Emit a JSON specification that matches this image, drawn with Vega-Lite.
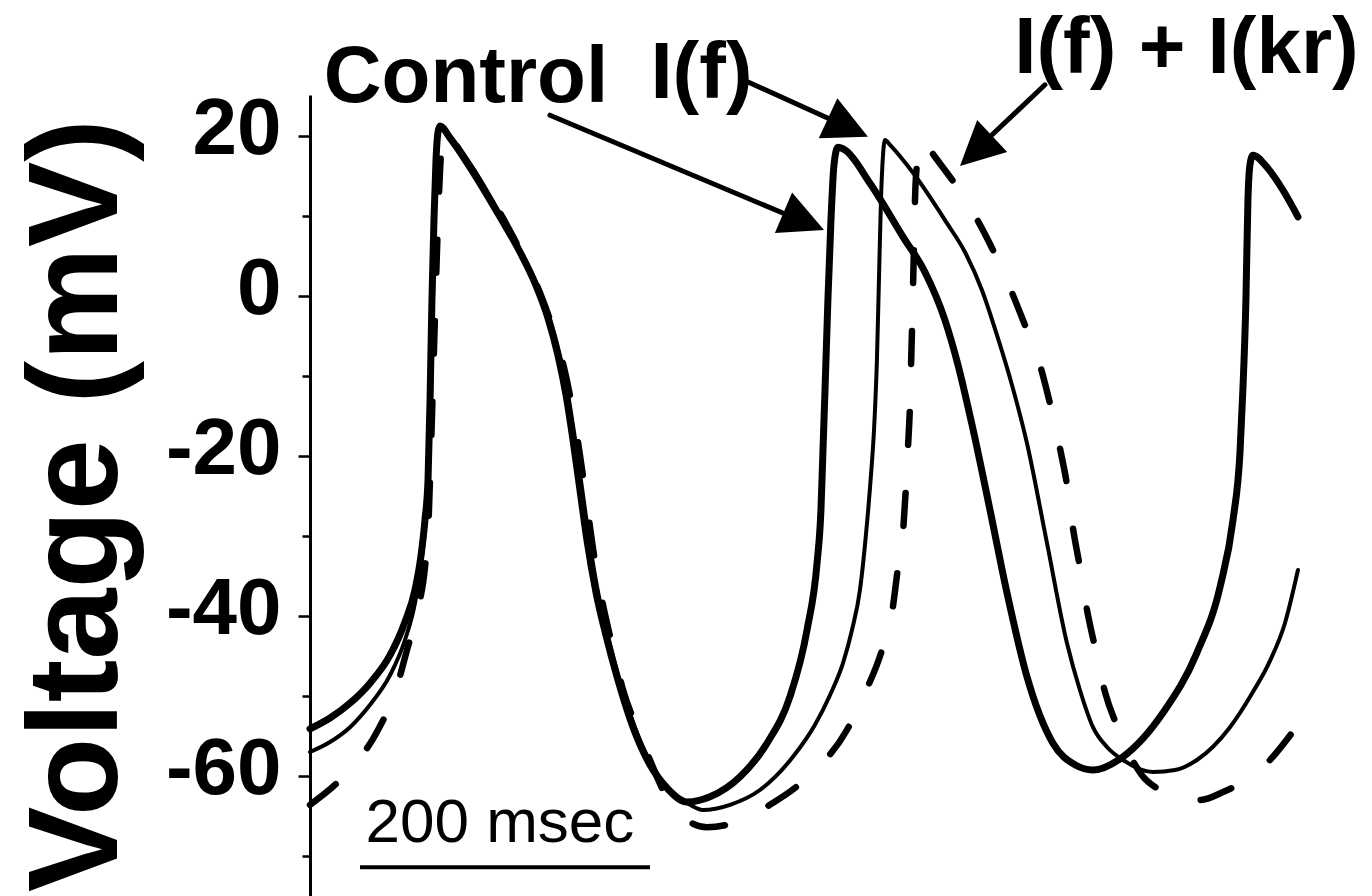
{
  "$schema": "https://vega.github.io/schema/vega-lite/v6.json",
  "width": 990,
  "height": 801,
  "autosize": {"type": "none"},
  "padding": {"left": 310, "top": 95, "right": 72, "bottom": 0},
  "background": "white",
  "config": {"view": {"stroke": null}},
  "datasets": {
    "control": [
      {"t":0,"v":-54.1},{"t":13.8,"v":-52.75},{"t":27.6,"v":-50.9},{"t":41.4,"v":-48.4},{"t":55.2,"v":-44.9},{"t":65.5,"v":-40.75},{"t":72.4,"v":-36.75},{"t":76.6,"v":-32.4},{"t":79.3,"v":-28.0},{"t":81.4,"v":-23.0},{"t":82.8,"v":-13.0},{"t":84.1,"v":-0.5},{"t":85.5,"v":9.5},{"t":86.9,"v":17.0},{"t":88.3,"v":20.5},{"t":89.7,"v":21.25},{"t":96.6,"v":19.75},{"t":112.4,"v":15.5},{"t":131.0,"v":9.9},{"t":144.8,"v":5.5},{"t":155.2,"v":1.6},{"t":164.1,"v":-2.75},{"t":171.0,"v":-7.4},{"t":176.6,"v":-12.4},{"t":181.4,"v":-18.0},{"t":186.2,"v":-24.25},{"t":191.0,"v":-30.5},{"t":197.2,"v":-37.0},{"t":204.1,"v":-42.4},{"t":212.4,"v":-48.0},{"t":222.8,"v":-53.9},{"t":234.5,"v":-58.6},{"t":246.2,"v":-61.5},{"t":260.0,"v":-63.25},{"t":275.9,"v":-62.6},{"t":296.6,"v":-60.1},{"t":315.2,"v":-55.9},{"t":331.0,"v":-50.1},{"t":342.8,"v":-41.75},{"t":349.7,"v":-33.4},{"t":352.4,"v":-26.75},{"t":353.8,"v":-19.25},{"t":355.2,"v":-11.75},{"t":357.2,"v":-0.5},{"t":359.3,"v":9.5},{"t":361.4,"v":16.4},{"t":364.1,"v":18.6},{"t":369.0,"v":18.25},{"t":386.2,"v":14.1},{"t":409.0,"v":7.4},{"t":424.1,"v":3.0},{"t":437.9,"v":-3.0},{"t":446.9,"v":-8.6},{"t":456.6,"v":-16.1},{"t":469.0,"v":-26.75},{"t":480.7,"v":-37.1},{"t":494.5,"v":-47.6},{"t":512.4,"v":-55.9},{"t":527.6,"v":-58.6},{"t":540.0,"v":-59.25},{"t":560.7,"v":-57.6},{"t":588.3,"v":-52.1},{"t":611.7,"v":-44.6},{"t":627.6,"v":-36.4},{"t":636.6,"v":-28.0},{"t":641.4,"v":-19.6},{"t":643.4,"v":-11.75},{"t":645.5,"v":-0.5},{"t":646.9,"v":12.0},{"t":648.3,"v":16.4},{"t":650.3,"v":17.6},{"t":660.0,"v":16.1},{"t":671.0,"v":13.25},{"t":681.4,"v":9.9}
    ],
    "if": [
      {"t":0,"v":-57.0},{"t":13.8,"v":-55.75},{"t":27.6,"v":-53.9},{"t":41.4,"v":-51.1},{"t":55.2,"v":-47.4},{"t":65.5,"v":-43.0},{"t":72.4,"v":-38.4},{"t":76.6,"v":-33.6},{"t":79.3,"v":-29.0},{"t":81.4,"v":-24.25},{"t":83.4,"v":-13.0},{"t":84.8,"v":-0.5},{"t":86.2,"v":10.75},{"t":87.6,"v":18.25},{"t":89.7,"v":20.9},{"t":94.5,"v":20.25},{"t":114.5,"v":15.4},{"t":133.1,"v":9.6},{"t":146.9,"v":5.1},{"t":157.2,"v":1.1},{"t":166.2,"v":-3.25},{"t":173.1,"v":-8.0},{"t":178.6,"v":-13.0},{"t":183.4,"v":-18.6},{"t":188.3,"v":-24.9},{"t":193.1,"v":-31.1},{"t":199.3,"v":-37.6},{"t":206.2,"v":-43.0},{"t":214.5,"v":-48.6},{"t":224.8,"v":-54.25},{"t":236.6,"v":-58.9},{"t":248.3,"v":-61.75},{"t":262.1,"v":-63.6},{"t":271.0,"v":-64.25},{"t":289.7,"v":-63.6},{"t":310.3,"v":-61.75},{"t":333.1,"v":-57.6},{"t":348.3,"v":-53.6},{"t":358.6,"v":-49.9},{"t":367.6,"v":-45.9},{"t":373.8,"v":-41.75},{"t":379.3,"v":-36.75},{"t":383.4,"v":-29.9},{"t":386.9,"v":-22.4},{"t":389.0,"v":-16.75},{"t":391.0,"v":-8.0},{"t":392.4,"v":2.0},{"t":393.8,"v":12.0},{"t":395.2,"v":17.6},{"t":396.6,"v":19.5},{"t":400.0,"v":18.9},{"t":415.9,"v":15.4},{"t":439.3,"v":9.1},{"t":451.7,"v":5.5},{"t":463.4,"v":0.75},{"t":473.8,"v":-4.9},{"t":484.1,"v":-11.1},{"t":494.5,"v":-18.4},{"t":508.3,"v":-30.9},{"t":522.1,"v":-43.4},{"t":531.0,"v":-49.25},{"t":540.0,"v":-53.9},{"t":550.3,"v":-56.5},{"t":560.7,"v":-58.0},{"t":581.4,"v":-59.5},{"t":596.6,"v":-59.25},{"t":611.7,"v":-58.0},{"t":634.5,"v":-53.9},{"t":650.3,"v":-49.5},{"t":662.1,"v":-45.6},{"t":672.4,"v":-40.9},{"t":681.4,"v":-34.25}
    ],
    "ifkr": [
      {"t":0,"v":-63.6},{"t":22.8,"v":-60.1},{"t":46.9,"v":-54.25},{"t":58.6,"v":-49.6},{"t":66.9,"v":-44.25},{"t":73.8,"v":-39.6},{"t":79.3,"v":-33.9},{"t":81.4,"v":-29.6},{"t":83.4,"v":-19.25},{"t":85.5,"v":-6.75},{"t":87.6,"v":5.75},{"t":89.7,"v":15.75},{"t":91.7,"v":20.5},{"t":95.2,"v":20.4},{"t":100.7,"v":18.9},{"t":115.2,"v":14.9},{"t":131.0,"v":10.4},{"t":144.8,"v":5.75},{"t":158.6,"v":0.4},{"t":168.9,"v":-4.9},{"t":175.9,"v":-9.5},{"t":181.4,"v":-14.5},{"t":186.2,"v":-19.9},{"t":191.0,"v":-26.1},{"t":195.9,"v":-32.4},{"t":201.4,"v":-38.0},{"t":208.3,"v":-43.6},{"t":215.9,"v":-49.25},{"t":225.5,"v":-54.0},{"t":234.5,"v":-58.0},{"t":243.4,"v":-61.75},{"t":260.0,"v":-65.5},{"t":273.8,"v":-66.4},{"t":287.6,"v":-66.1},{"t":317.2,"v":-63.6},{"t":343.4,"v":-60.1},{"t":370.3,"v":-54.25},{"t":382.8,"v":-49.6},{"t":394.5,"v":-44.25},{"t":401.4,"v":-39.6},{"t":405.5,"v":-34.0},{"t":409.0,"v":-29.5},{"t":411.0,"v":-23.9},{"t":412.4,"v":-19.0},{"t":413.8,"v":-13.6},{"t":414.5,"v":-8.9},{"t":415.2,"v":-4.25},{"t":415.9,"v":1.1},{"t":416.6,"v":6.6},{"t":417.2,"v":11.6},{"t":418.6,"v":16.4},{"t":422.1,"v":19.5},{"t":431.0,"v":17.4},{"t":453.1,"v":11.75},{"t":466.9,"v":7.25},{"t":481.4,"v":1.6},{"t":491.7,"v":-3.0},{"t":503.4,"v":-8.6},{"t":510.3,"v":-13.4},{"t":517.2,"v":-19.0},{"t":522.1,"v":-23.6},{"t":526.2,"v":-29.0},{"t":531.0,"v":-33.9},{"t":535.9,"v":-39.25},{"t":541.4,"v":-43.9},{"t":548.3,"v":-49.5},{"t":557.2,"v":-54.0},{"t":573.8,"v":-59.9},{"t":586.2,"v":-61.75},{"t":598.6,"v":-62.75},{"t":613.8,"v":-63.0},{"t":629.7,"v":-62.0},{"t":655.2,"v":-59.25},{"t":681.4,"v":-53.6}
    ],
    "labels": [
      {"t":107.6,"v":24.2,"text":"Control"},
      {"t":270.0,"v":24.7,"text":"I(f)"},
      {"t":604.5,"v":27.9,"text":"I(f) + I(kr)"}
    ],
    "shafts": [
      {"t":165.5,"v":22.6,"t2":331.0,"v2":10.0},
      {"t":302.1,"v":26.75,"t2":360.0,"v2":22.0},
      {"t":506.9,"v":26.4,"t2":469.0,"v2":19.9}
    ],
    "scalebar": [{"t":34.5,"t2":234.5,"v":-71.4}],
    "scaletext": [{"t":131.0,"v":-68.25,"text":"200 msec"}]
  },
  "encoding": {
    "x": {"field": "t", "type": "quantitative", "scale": {"domain": [0, 682.8], "nice": false, "zero": false}, "axis": null},
    "y": {
      "field": "v", "type": "quantitative",
      "scale": {"domain": [-75, 25.125], "nice": false, "zero": false},
      "axis": {
        "values": [20, 10, 0, -10, -20, -30, -40, -50, -60, -70],
        "labelExpr": "datum.value % 20 === 0 ? '' + datum.value : ''",
        "labelFont": "Liberation Sans", "labelFontWeight": "bold", "labelFontSize": 80, "labelColor": "black",
        "labelPadding": 17, "labelOverlap": false, "labelOffset": -7,
        "tickSize": {"condition": {"test": "datum.value % 20 !== 0", "value": 8}, "value": 12},
        "tickWidth": 2.5, "tickColor": "black",
        "domainWidth": 3, "domainColor": "black",
        "grid": false,
        "title": "Voltage (mV)",
        "titleFont": "Liberation Sans", "titleFontWeight": "bold", "titleFontSize": 128, "titleColor": "black",
        "titleX": -194, "titleY": 410, "titleAngle": -90, "titleAlign": "center", "titleBaseline": "alphabetic"
      }
    }
  },
  "layer": [
    {"data": {"name": "control"}, "mark": {"type": "line", "color": "black", "strokeWidth": 7, "strokeCap": "round", "strokeJoin": "round", "interpolate": "monotone"}},
    {"data": {"name": "if"}, "mark": {"type": "line", "color": "black", "strokeWidth": 4, "strokeCap": "round", "strokeJoin": "round", "interpolate": "monotone"}},
    {"data": {"name": "ifkr"}, "mark": {"type": "line", "color": "black", "strokeWidth": 6.5, "strokeCap": "round", "strokeJoin": "round", "strokeDash": [33, 48], "interpolate": "monotone"}},
    {"data": {"name": "shafts"}, "mark": {"type": "rule", "color": "black", "strokeWidth": 5, "strokeCap": "round"},
     "encoding": {"x2": {"field": "t2"}, "y2": {"field": "v2"}}},
    {"data": {"values": [{"t": 354.5, "v": 8.25}]}, "mark": {"type": "point", "shape": "M0,0L-1,2L1,2Z", "size": 1936, "angle": 113, "filled": true, "color": "black", "opacity": 1}},
    {"data": {"values": [{"t": 384.8, "v": 19.9}]}, "mark": {"type": "point", "shape": "M0,0L-1,2L1,2Z", "size": 1936, "angle": 115, "filled": true, "color": "black", "opacity": 1}},
    {"data": {"values": [{"t": 448.3, "v": 16.25}]}, "mark": {"type": "point", "shape": "M0,0L-1,2L1,2Z", "size": 1936, "angle": 227, "filled": true, "color": "black", "opacity": 1}},
    {"data": {"name": "labels"}, "mark": {"type": "text", "font": "Liberation Sans", "fontWeight": "bold", "fontSize": 80, "color": "black", "align": "center", "baseline": "alphabetic"},
     "encoding": {"text": {"field": "text"}}},
    {"data": {"name": "scalebar"}, "mark": {"type": "rule", "color": "black", "strokeWidth": 4},
     "encoding": {"x2": {"field": "t2"}}},
    {"data": {"name": "scaletext"}, "mark": {"type": "text", "font": "Liberation Sans", "fontSize": 62, "color": "black", "align": "center", "baseline": "alphabetic"},
     "encoding": {"text": {"field": "text"}}}
  ]
}
